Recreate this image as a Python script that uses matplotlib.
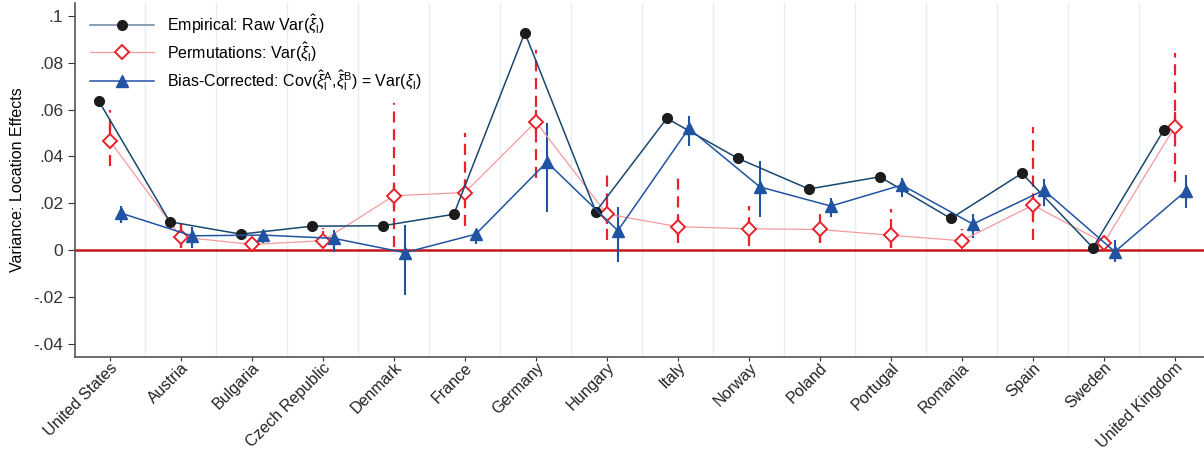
import numpy as np
import matplotlib
matplotlib.use('Agg')
import matplotlib.pyplot as plt
import matplotlib.transforms as mtransforms

plt.rcParams['font.family'] = ['Liberation Sans', 'DejaVu Sans']
plt.rcParams['mathtext.fontset'] = 'custom'
plt.rcParams['mathtext.rm'] = 'Liberation Sans'
plt.rcParams['mathtext.it'] = 'Liberation Sans:italic'

countries = ['United States', 'Austria', 'Bulgaria', 'Czech Republic', 'Denmark', 'France',
             'Germany', 'Hungary', 'Italy', 'Norway', 'Poland', 'Portugal', 'Romania',
             'Spain', 'Sweden', 'United Kingdom']

# empirical raw variance
emp = [0.0637, 0.0121, 0.0068, 0.0102, 0.0104, 0.0153, 0.0929, 0.0164,
       0.0563, 0.0392, 0.0261, 0.0313, 0.0135, 0.0328, 0.0010, 0.0513]

# permutations: point, outer (dashed) and inner (solid) intervals
perm = [0.0467, 0.0056, 0.0024, 0.0040, 0.0232, 0.0246, 0.0548, 0.0154,
        0.0100, 0.0091, 0.0088, 0.0063, 0.0040, 0.0192, 0.0031, 0.0527]
perm_lo = [0.0360, 0.0010, 0.0002, 0.0014, 0.0014, 0.0103, 0.0307, 0.0043,
           0.0030, 0.0018, 0.0031, 0.0007, 0.0008, 0.0043, 0.0007, 0.0292]
perm_hi = [0.0600, 0.0115, 0.0070, 0.0094, 0.0630, 0.0500, 0.0855, 0.0335,
           0.0307, 0.0188, 0.0174, 0.0174, 0.0090, 0.0527, 0.0085, 0.0843]
perm_in_lo = [0.0436, 0.0010, 0.0005, 0.0010, 0.0180, 0.0200, 0.0500, 0.0110,
              0.0060, 0.0050, 0.0029, 0.0010, 0.0010, 0.0140, 0.0010, 0.0484]
perm_in_hi = [0.0534, 0.0115, 0.0045, 0.0080, 0.0280, 0.0290, 0.0600, 0.0200,
              0.0140, 0.0130, 0.0121, 0.0100, 0.0060, 0.0240, 0.0060, 0.0590]

# bias-corrected covariance with interval
bc = [0.0158, 0.0061, 0.0064, 0.0050, -0.0011, 0.0068, 0.0376, 0.0083,
      0.0520, 0.0270, 0.0188, 0.0278, 0.0111, 0.0256, -0.0007, 0.0253]
bc_lo = [0.0115, 0.0010, 0.0030, -0.0010, -0.0192, 0.0026, 0.0164, -0.0050,
         0.0444, 0.0142, 0.0140, 0.0225, 0.0051, 0.0189, -0.0050, 0.0178]
bc_hi = [0.0190, 0.0098, 0.0085, 0.0085, 0.0107, 0.0085, 0.0544, 0.0185,
         0.0573, 0.0380, 0.0224, 0.0310, 0.0154, 0.0302, 0.0043, 0.0320]

navy = '#1a476f'
red = '#e8212a'
pink = '#f59a9e'
blue = '#2153a3'

x = np.arange(len(countries))
off = 0.155

fig = plt.figure(figsize=(12.04, 4.54), dpi=100)
ax = fig.add_axes([0.0623, 0.2137, 0.9377, 0.7797])

for b in np.arange(0.5, len(countries), 1.0):
    ax.axvline(b, color='#e4eff3', lw=1, zorder=0)
ax.axhline(0, color='#c4161c', lw=1.8, zorder=1)

# permutation intervals
ax.vlines(x, perm_lo, perm_hi, colors=red, lw=1.6, linestyles=(0, (5, 3)), zorder=2)
ax.vlines(x, perm_in_lo, perm_in_hi, colors=red, lw=1.6, zorder=2)
# bias-corrected intervals
ax.vlines(x + off, bc_lo, bc_hi, colors=blue, lw=1.5, zorder=2)

ax.plot(x - off, emp, color=navy, lw=1.1, marker='o', ms=7, mfc='#1c1c1c', mec='#1c1c1c',
        zorder=4, label=r'Empirical: Raw Var($\hat{\xi}_{\rm l}$)')
ax.plot(x, perm, color=pink, lw=0.9, marker='D', ms=7, mfc='white', mec=red, mew=1.4,
        zorder=3, label=r'Permutations: Var($\hat{\xi}_{\rm l}$)')
ax.plot(x + off, bc, color=blue, lw=1.1, marker='^', ms=8.5, mfc=blue, mec=blue,
        zorder=4, label=r'Bias-Corrected: Cov($\hat{\xi}_{\rm l}^{\rm A}$,$\hat{\xi}_{\rm l}^{\rm B}$) = Var($\xi_{\rm l}$)')

handles, labels = ax.get_legend_handles_labels()
handles[0].set_color('#6b84a0')
leg = ax.legend(handles, labels, loc='upper left', frameon=False, fontsize=11.5,
                handlelength=4, borderaxespad=0.2, labelspacing=0.3,
                bbox_to_anchor=(0.005, 1.0))
handles[0].set_color(navy)

ax.set_xlim(-0.49, 15.41)
ax.set_ylim(-0.0457, 0.1056)
ax.set_yticks([-0.04, -0.02, 0, 0.02, 0.04, 0.06, 0.08, 0.1])
ax.set_yticklabels(['-.04', '-.02', '0', '.02', '.04', '.06', '.08', '.1'], fontsize=12.5)
ax.set_xticks(x)
ax.set_xticklabels([])
ax.set_ylabel('Variance: Location Effects', fontsize=11.5, labelpad=6)

# rotated country labels, pulled up against the axis like the original
shift = mtransforms.ScaledTranslation(0, -3 / 100, fig.dpi_scale_trans)
for xi, name in zip(x, countries):
    ax.text(xi, 0, name, transform=ax.get_xaxis_transform() + shift, rotation=45,
            ha='right', va='top', rotation_mode='anchor', fontsize=11.5,
            color='#222222', clip_on=False)

for s in ['top', 'right']:
    ax.spines[s].set_visible(False)
for s in ['left', 'bottom']:
    ax.spines[s].set_color('#555555')
    ax.spines[s].set_linewidth(1.2)
ax.tick_params(axis='both', colors='#333333', length=5)
ax.tick_params(axis='x', length=3, pad=0)

fig.savefig('out.png', dpi=100)
